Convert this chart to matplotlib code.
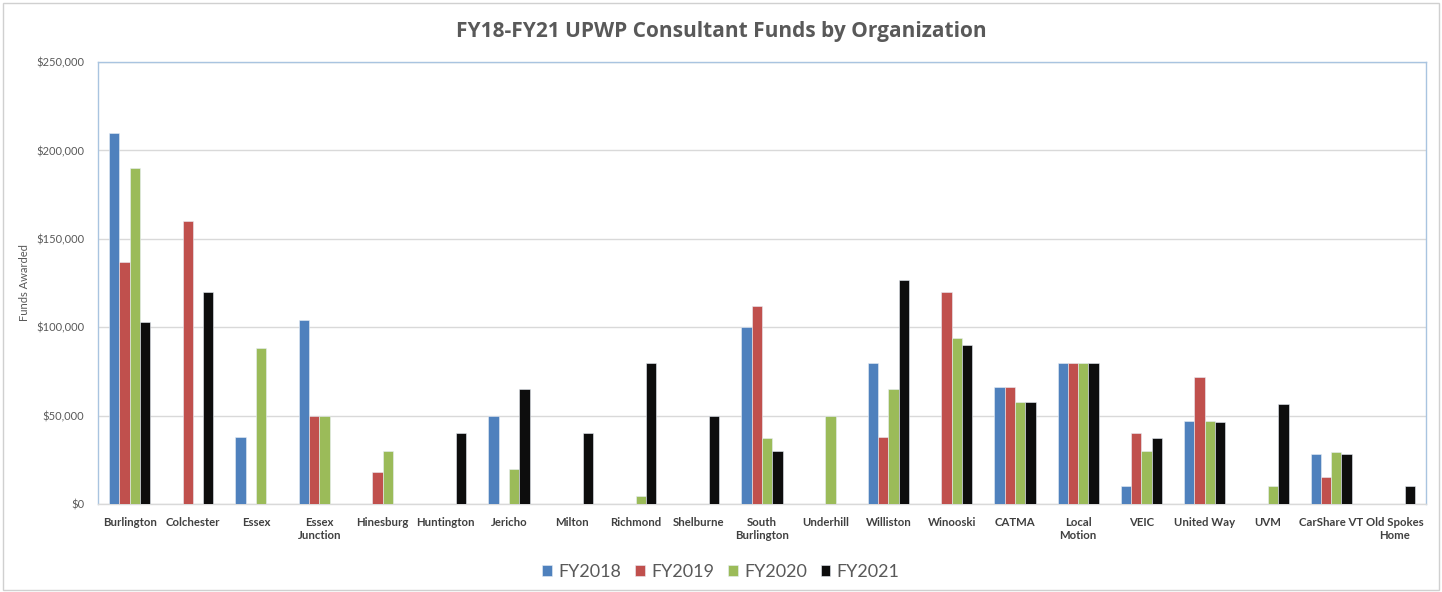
import matplotlib
matplotlib.use("Agg")
import matplotlib.pyplot as plt
import numpy as np
from matplotlib.ticker import FuncFormatter, MultipleLocator
from matplotlib.patches import Rectangle

categories = ["Burlington", "Colchester", "Essex", "Essex\nJunction", "Hinesburg",
              "Huntington", "Jericho", "Milton", "Richmond", "Shelburne",
              "South\nBurlington", "Underhill", "Williston", "Winooski", "CATMA",
              "Local\nMotion", "VEIC", "United Way", "UVM", "CarShare VT",
              "Old Spokes\nHome"]
fy2018 = [210000, 0, 38000, 104000, 0, 0, 50000, 0, 0, 0, 100000, 0, 80000, 0,
          66000, 80000, 10000, 47000, 0, 28000, 0]
fy2019 = [137000, 160000, 0, 50000, 18000, 0, 0, 0, 0, 0, 112000, 0, 38000, 120000,
          66000, 80000, 40000, 72000, 0, 15000, 0]
fy2020 = [190000, 0, 88000, 50000, 30000, 0, 20000, 0, 4500, 0, 37500, 50000, 65000, 94000,
          57500, 80000, 30000, 47000, 10000, 29500, 0]
fy2021 = [103000, 120000, 0, 0, 0, 40000, 65000, 40000, 80000, 50000, 30000, 0, 126500, 90000,
          57500, 80000, 37500, 46500, 56500, 28000, 10000]
series_names = ["FY2018", "FY2019", "FY2020", "FY2021"]
colors = ["#4F81BD", "#C0504D", "#9BBB59", "#0D0D0D"]

W, H = 1442, 592
fig = plt.figure(figsize=(W / 100, H / 100), dpi=100)
ax = fig.add_axes([98 / W, 1 - 504 / H, (1426 - 98) / W, (504 - 62) / H])

x = np.arange(len(categories))
bw = 0.163
for i, (vals, name, c) in enumerate(zip([fy2018, fy2019, fy2020, fy2021], series_names, colors)):
    ax.bar(x + (i - 1.5) * bw, vals, bw, color=c, label=name, edgecolor="#E8EEF6", linewidth=0.4, zorder=3)

ax.set_xlim(-0.5, len(categories) - 0.5)
ax.set_ylim(0, 250000)
ax.yaxis.set_major_locator(MultipleLocator(50000))
ax.yaxis.set_major_formatter(FuncFormatter(lambda v, p: "${:,.0f}".format(v)))
ax.grid(axis="y", color="#D9D9D9", linewidth=1, zorder=0)
ax.set_axisbelow(True)
for s in ["top", "right", "left"]:
    ax.spines[s].set_color("#A9C4E0")
    ax.spines[s].set_linewidth(1)
ax.spines["bottom"].set_color("#D9D9D9")
ax.spines["bottom"].set_linewidth(1)
ax.tick_params(axis="both", length=0)
ax.tick_params(axis="y", labelsize=8, labelcolor="#595959", pad=10)
ax.set_xticks(x)
ax.set_xticklabels(categories, fontsize=8.2, fontweight="bold", color="#404040",
                   linespacing=1.3, va="top")
ax.tick_params(axis="x", pad=9)
for lab in ax.get_yticklabels() + ax.get_xticklabels():
    lab.set_family("Lato")

ax.set_ylabel("Funds Awarded", fontsize=8, color="#595959", family="Lato", labelpad=4)

fig.text(0.5, 1 - 31 / H, "FY18-FY21 UPWP Consultant Funds by Organization",
         ha="center", va="center", fontsize=15, fontweight="bold", color="#595959", family="Open Sans")

leg = fig.legend(*ax.get_legend_handles_labels(), loc="center", bbox_to_anchor=(0.5, 1 - 572 / H),
                 ncol=4, frameon=False, fontsize=13, handlelength=0.55, handleheight=0.55,
                 handletextpad=0.35, columnspacing=0.75)
for t in leg.get_texts():
    t.set_color("#595959")
    t.set_family("Lato")

fig.add_artist(Rectangle((3 / W, 2 / H), (W - 6) / W, (H - 5) / H, transform=fig.transFigure,
                         fill=False, edgecolor="#D0D0D0", linewidth=1))

fig.savefig("out.png", dpi=100)
